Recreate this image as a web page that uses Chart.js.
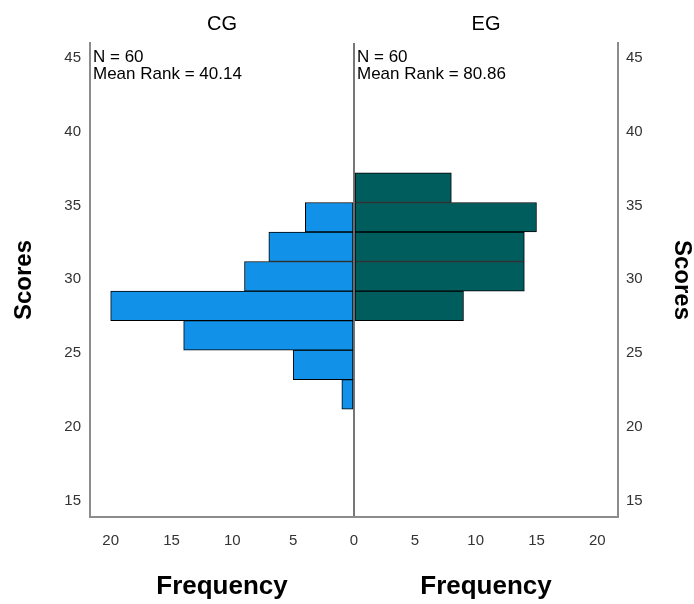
<!DOCTYPE html>
<html>
<head>
<meta charset="utf-8">
<script src="https://cdn.jsdelivr.net/npm/chart.js@4"></script>
<style>
  body { margin: 0; background: #fff; }
  #wrap { width: 694px; height: 604px; }
</style>
</head>
<body>
<div id="wrap"><canvas id="histChart" width="694" height="604"></canvas></div>
<script>
// bins of width 2, centre values
const binCenters = [22.2, 24.2, 26.2, 28.2, 30.2, 32.2, 34.2, 36.2]
const cgFreq = [1, 5, 14, 20, 9, 7, 4, 0]
const egFreq = [0, 0, 0, 9, 14, 14, 15, 8]

const groupNames = ["CG", "EG"]
const groupN = [60, 60]
const meanRanks = ["40.14", "80.86"]

const scoreTicks = [15, 20, 25, 30, 35, 40, 45]
const freqTicks = [-20, -15, -10, -5, 0, 5, 10, 15, 20]

const fontFam = "'Liberation Sans', Arial, sans-serif"
Chart.defaults.font.family = fontFam

// CG is drawn to the left (negative), EG to the right
function toPoints(freqs, sign) {
  return binCenters.map((b, i) => ({ y: b, x: freqs[i] ? sign * freqs[i] : null }))
}

function keepTicks(list) {
  return function (scale) {
    scale.ticks = list.map(v => ({ value: v }))
  }
}

// group headers, frequency labels and N / mean rank notes
const textPlugin = {
  id: "panelText",
  afterDraw(chart) {
    const ctx = chart.ctx
    const xs = chart.scales.x
    const area = chart.chartArea
    const midL = (area.left + xs.getPixelForValue(0)) / 2
    const midR = (xs.getPixelForValue(0) + area.right) / 2
    ctx.save()
    ctx.fillStyle = "#000"
    ctx.textAlign = "center"
    ctx.textBaseline = "middle"
    ctx.font = "20px " + fontFam
    ctx.fillText(groupNames[0], midL, 24)
    ctx.fillText(groupNames[1], midR, 24)
    ctx.font = "bold 26px " + fontFam
    ctx.fillText("Frequency", midL, 587)
    ctx.fillText("Frequency", midR, 587)

    ctx.textAlign = "left"
    ctx.font = "17px " + fontFam
    const starts = [area.left + 3, xs.getPixelForValue(0) + 3]
    for (let i = 0; i < 2; i++) {
      ctx.fillText("N = " + groupN[i], starts[i], area.top + 14)
      ctx.fillText("Mean Rank = " + meanRanks[i], starts[i], area.top + 31)
    }
    ctx.restore()
  }
}

const chart = new Chart(document.getElementById("histChart"), {
  type: "bar",
  data: {
    datasets: [{
      label: groupNames[0],
      data: toPoints(cgFreq, -1),
      backgroundColor: "#1192e8",
      borderColor: "#000",
      borderWidth: 1,
      borderSkipped: false,
      barPercentage: 1,
      categoryPercentage: 1
    }, {
      label: groupNames[1],
      data: toPoints(egFreq, 1),
      backgroundColor: "#005d5d",
      borderColor: "#000",
      borderWidth: 1,
      borderSkipped: false,
      barPercentage: 1,
      categoryPercentage: 1
    }]
  },
  options: {
    responsive: false,
    animation: false,
    devicePixelRatio: 1,
    indexAxis: "y",
    layout: { padding: { top: 43, left: 0, right: 0, bottom: 0 } },
    plugins: {
      legend: { display: false },
      tooltip: { enabled: false }
    },
    scales: {
      x: {
        type: "linear",
        min: -21.7,
        max: 21.7,
        stacked: true,
        afterBuildTicks: keepTicks(freqTicks),
        afterFit: s => { s.height = 87 },
        ticks: {
          color: "#333",
          font: { size: 15 },
          padding: 15,
          maxRotation: 0,
          callback: v => Math.abs(v)
        },
        grid: {
          drawTicks: false,
          color: c => (c.tick && c.tick.value === 0 ? "#777" : "rgba(0,0,0,0)"),
          lineWidth: 2
        },
        border: { display: true, color: "#8c8c8c", width: 2 }
      },
      y: {
        type: "linear",
        position: "left",
        min: 13.9,
        max: 46,
        offset: false,
        stacked: true,
        afterBuildTicks: keepTicks(scoreTicks),
        afterFit: s => { s.width = 90 },
        ticks: { color: "#333", font: { size: 15 }, padding: 9 },
        grid: { display: false, drawTicks: false, offset: false },
        border: { display: true, color: "#8c8c8c", width: 2 },
        title: {
          display: true,
          text: "Scores",
          color: "#000",
          font: { size: 24, weight: "bold", lineHeight: 1 },
          padding: { top: 12, bottom: 0 }
        }
      },
      y2: {
        type: "linear",
        position: "right",
        min: 13.9,
        max: 46,
        offset: false,
        afterBuildTicks: keepTicks(scoreTicks),
        afterFit: s => { s.width = 76 },
        ticks: { color: "#333", font: { size: 15 }, padding: 8 },
        grid: { display: false, drawTicks: false },
        border: { display: true, color: "#8c8c8c", width: 2 },
        title: {
          display: true,
          text: "Scores",
          color: "#000",
          font: { size: 24, weight: "bold", lineHeight: 1 },
          padding: { top: 0, bottom: 0 }
        }
      }
    }
  },
  plugins: [textPlugin]
})
</script>
</body>
</html>
